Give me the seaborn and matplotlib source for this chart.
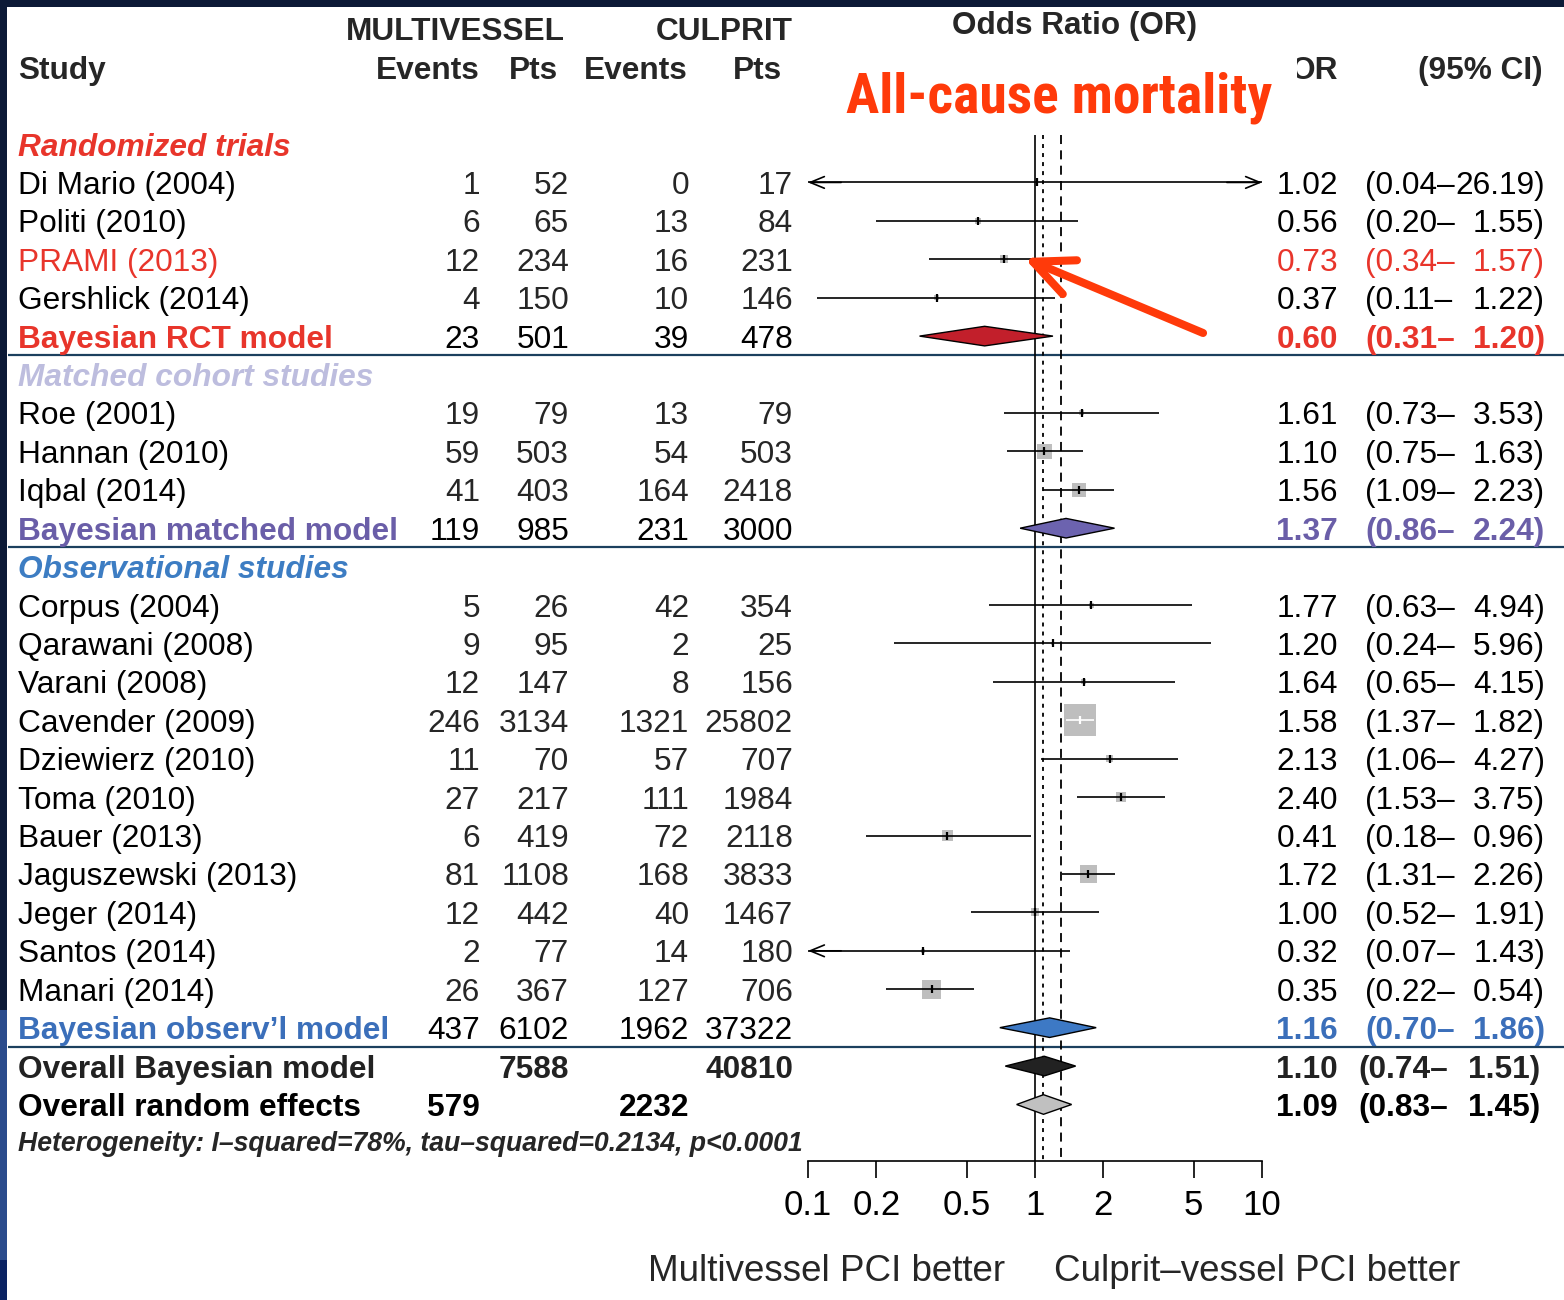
import matplotlib
matplotlib.use("Agg")
import numpy as np
import pandas as pd
import matplotlib.pyplot as plt
from matplotlib import font_manager
from matplotlib.patches import Polygon, Rectangle
import seaborn as sns

# ---------------- data ----------------
group_titles = ["Randomized trials", "Matched cohort studies", "Observational studies"]

study_names = ["Di Mario (2004)", "Politi (2010)", "PRAMI (2013)", "Gershlick (2014)",
               "Roe (2001)", "Hannan (2010)", "Iqbal (2014)",
               "Corpus (2004)", "Qarawani (2008)", "Varani (2008)", "Cavender (2009)",
               "Dziewierz (2010)", "Toma (2010)", "Bauer (2013)", "Jaguszewski (2013)",
               "Jeger (2014)", "Santos (2014)", "Manari (2014)"]
study_group = [0, 0, 0, 0, 1, 1, 1, 2, 2, 2, 2, 2, 2, 2, 2, 2, 2, 2]
mv_events = [1, 6, 12, 4, 19, 59, 41, 5, 9, 12, 246, 11, 27, 6, 81, 12, 2, 26]
mv_pts = [52, 65, 234, 150, 79, 503, 403, 26, 95, 147, 3134, 70, 217, 419, 1108, 442, 77, 367]
cp_events = [0, 13, 16, 10, 13, 54, 164, 42, 2, 8, 1321, 57, 111, 72, 168, 40, 14, 127]
cp_pts = [17, 84, 231, 146, 79, 503, 2418, 354, 25, 156, 25802, 707, 1984, 2118, 3833, 1467, 180, 706]
odds_ratio = [1.02, 0.56, 0.73, 0.37, 1.61, 1.10, 1.56, 1.77, 1.20, 1.64, 1.58, 2.13, 2.40,
              0.41, 1.72, 1.00, 0.32, 0.35]
ci_lower = [0.04, 0.20, 0.34, 0.11, 0.73, 0.75, 1.09, 0.63, 0.24, 0.65, 1.37, 1.06, 1.53,
            0.18, 1.31, 0.52, 0.07, 0.22]
ci_upper = [26.19, 1.55, 1.57, 1.22, 3.53, 1.63, 2.23, 4.94, 5.96, 4.15, 1.82, 4.27, 3.75,
            0.96, 2.26, 1.91, 1.43, 0.54]
study_weight = [0.04, 0.37, 0.64, 0.25, 0.25, 2.3, 1.9, 0.25, 0.09, 0.25, 10.2, 0.49, 1.0,
                1.2, 2.9, 0.64, 0.16, 3.6]
highlighted_study = "PRAMI (2013)"

pooled_names = ["Bayesian RCT model", "Bayesian matched model", "Bayesian observ\u2019l model",
                "Overall Bayesian model", "Overall random effects"]
pooled_mv_events = [23, 119, 437, None, 579]
pooled_mv_pts = [501, 985, 6102, 7588, None]
pooled_cp_events = [39, 231, 1962, None, 2232]
pooled_cp_pts = [478, 3000, 37322, 40810, None]
pooled_or = [0.60, 1.37, 1.16, 1.10, 1.09]
pooled_lower = [0.31, 0.86, 0.70, 0.74, 0.83]
pooled_upper = [1.20, 2.24, 1.86, 1.51, 1.45]

fixed_effect_or = 1.30
heterogeneity = "Heterogeneity: I\u2013squared=78%, tau\u2013squared=0.2134, p<0.0001"
x_ticks = [0.1, 0.2, 0.5, 1, 2, 5, 10]
x_tick_labels = ["0.1", "0.2", "0.5", "1", "2", "5", "10"]

# ---------------- styling ----------------
W, H = 1564, 1300
ROW0_PX, ROW_PX = 144.0, 38.42
sns.set_theme(style="white")
REGULAR = ["Liberation Sans", "DejaVu Sans"]
plt.rcParams["font.family"] = REGULAR


def pick_narrow_family():
    names = sorted({f.name for f in font_manager.fontManager.ttflist})
    for pref in ("Liberation Sans Narrow", "Arial Narrow", "Roboto Condensed",
                 "Noto Sans Condensed", "Open Sans Condensed", "DejaVu Sans Condensed"):
        if pref in names:
            return [pref, "Liberation Sans", "DejaVu Sans"]
    for n in names:
        if ("Narrow" in n or "Condensed" in n) and "Serif" not in n and "Mono" not in n:
            return [n, "Liberation Sans", "DejaVu Sans"]
    return REGULAR


NARROW = pick_narrow_family()

FS = 22.8
BASE = 11.5 / ROW_PX
RED = "#E8352B"
header_colors = [RED, "#BDBDDE", "#3D7DC3"]
pooled_text_colors = [RED, "#6A5EA8", "#3B6FBA", "#222222", "black"]
diamond_colors = ["#C21F2B", "#6C63AF", "#3D79C5", "#222222", "#C0C0C0"]
BOX_GRAY = "#BEBEBE"
SEP = "#1C405E"
ORANGE = "#FF3A0A"


def row_of_px(p):
    return (p - ROW0_PX) / ROW_PX


fig = plt.figure(figsize=(W / 100, H / 100), dpi=100)
fig.patch.set_facecolor("white")

ax_txt = fig.add_axes([0, 0, 1, 1])
ax_txt.set_xlim(0, W)
ax_txt.set_ylim(row_of_px(H), row_of_px(0))
ax_txt.axis("off")

ax = fig.add_axes([808 / W, 0, 454 / W, 1])
ax.set_xscale("log")
ax.set_xlim(0.1, 10)
ax.set_ylim(row_of_px(H), row_of_px(0))
ax.patch.set_alpha(0)

# ---------------- row layout ----------------
rows = []  # (kind, index, row)
r = 0
for g in range(3):
    rows.append(("header", g, r)); r += 1
    for i, sg in enumerate(study_group):
        if sg == g:
            rows.append(("study", i, r)); r += 1
    rows.append(("pooled", g, r)); r += 1
rows.append(("pooled", 3, r)); r += 1
rows.append(("pooled", 4, r)); r += 1
het_row = r
axis_row = row_of_px(1161)

COL = dict(mv_ev=480, mv_pt=569, cp_ev=689, cp_pt=793)


def put(x, row, s, ha="left", fs=FS, **kw):
    return ax_txt.text(x, row + BASE, s, ha=ha, va="baseline", fontsize=fs, **kw)


def fmt_ci(lo, hi, row, color, weight, left=1365, right=1545):
    put(left, row, f"({lo:.2f}\u2013", color=color, fontweight=weight)
    put(right, row, f"{hi:.2f})", ha="right", color=color, fontweight=weight)


# column headers
put(455, -3, "MULTIVESSEL", ha="center", fontweight="bold")
put(724, -3, "CULPRIT", ha="center", fontweight="bold")
put(18, -2, "Study", fontweight="bold")
put(480, -2, "Events", ha="right", fontweight="bold")
put(558, -2, "Pts", ha="right", fontweight="bold")
put(688, -2, "Events", ha="right", fontweight="bold")
put(782, -2, "Pts", ha="right", fontweight="bold")
put(1338, -2, "OR", ha="right", fontweight="bold", zorder=2)
put(1543, -2, "(95% CI)", ha="right", fontweight="bold")

fit_texts = []
t_or = ax_txt.text(1075, row_of_px(34), "Odds Ratio (OR)", ha="center", va="baseline",
                   fontsize=24, fontweight="bold", family=REGULAR)
fit_texts.append((t_or, 245))
# white panel behind the title; it overlaps the left edge of the OR header
ax_txt.add_patch(Rectangle((824, row_of_px(52)), 1297 - 824, (132 - 52) / ROW_PX,
                           facecolor="white", edgecolor="none", zorder=4))
t_title = ax_txt.text(1059, row_of_px(113), "All-cause mortality", ha="center", va="baseline",
                      fontsize=38, fontweight="bold", family=NARROW, color=ORANGE, zorder=5)
fit_texts.append((t_title, 426))
t_het = ax_txt.text(18, het_row + 8 / ROW_PX, heterogeneity, ha="left", va="baseline",
                    fontsize=17, fontweight="bold", fontstyle="italic", family=REGULAR)
fit_texts.append((t_het, 787))

box_rows = []
for kind, idx, row in rows:
    if kind == "header":
        put(18, row, group_titles[idx], color=header_colors[idx], fontweight="bold",
            fontstyle="italic")
    elif kind == "study":
        col = RED if study_names[idx] == highlighted_study else "black"
        put(18, row, study_names[idx], color=col)
        put(COL["mv_ev"], row, str(mv_events[idx]), ha="right")
        put(COL["mv_pt"], row, str(mv_pts[idx]), ha="right")
        put(COL["cp_ev"], row, str(cp_events[idx]), ha="right")
        put(COL["cp_pt"], row, str(cp_pts[idx]), ha="right")
        put(1338, row, f"{odds_ratio[idx]:.2f}", ha="right", color=col)
        fmt_ci(ci_lower[idx], ci_upper[idx], row, col, "normal")
        box_rows.append(dict(name=study_names[idx], row=row, est=odds_ratio[idx],
                             lo=ci_lower[idx], hi=ci_upper[idx], weight=study_weight[idx]))
    else:
        col = pooled_text_colors[idx]
        overall = idx >= 3
        put(18, row, pooled_names[idx], color=col, fontweight="bold")
        num_col = col if overall else "black"
        num_w = "bold" if overall else "normal"
        for key, vals in (("mv_ev", pooled_mv_events), ("mv_pt", pooled_mv_pts),
                          ("cp_ev", pooled_cp_events), ("cp_pt", pooled_cp_pts)):
            if vals[idx] is not None:
                put(COL[key], row, str(vals[idx]), ha="right", color=num_col, fontweight=num_w)
        put(1338, row, f"{pooled_or[idx]:.2f}", ha="right", color=col, fontweight="bold")
        if overall:
            fmt_ci(pooled_lower[idx], pooled_upper[idx], row, col, "bold", 1358, 1540)
        else:
            fmt_ci(pooled_lower[idx], pooled_upper[idx], row, col, "bold")
        # diamond
        half = 9.8 / ROW_PX
        est, lo, hi = pooled_or[idx], pooled_lower[idx], pooled_upper[idx]
        ax.add_patch(Polygon([(lo, row), (est, row - half), (hi, row), (est, row + half)],
                             closed=True, facecolor=diamond_colors[idx], edgecolor="black",
                             linewidth=1.0, zorder=6, clip_on=False))

# separators
for y in (5.5, 10.5, 23.5):
    ax_txt.hlines(y, 8, W, color=SEP, linewidth=1.6, zorder=1)

# ---------------- forest marks ----------------
df = pd.DataFrame(box_rows)
side_max_pt = 32 * 0.72
sns.scatterplot(data=df, x="est", y="row", size="weight", sizes=(0, side_max_pt ** 2),
                size_norm=(0, max(study_weight)), marker="s", color=BOX_GRAY, linewidth=0,
                legend=False, ax=ax, zorder=3)

# half-width of each box in log10 units, to see whether the interval hides inside it
px_per_dec = 454 / 2.0
df["half_dec"] = np.sqrt(df["weight"] / max(study_weight)) * 32 / 2 / px_per_dec
inside = (np.log10(df["lo"]) >= np.log10(df["est"]) - df["half_dec"]) & \
         (np.log10(df["hi"]) <= np.log10(df["est"]) + df["half_dec"])
df["tick"] = np.where(inside, "white", "black")

for _, rr in df.iterrows():
    lo, hi = max(rr.lo, 0.1), min(rr.hi, 10)
    ax.hlines(rr.row, lo, hi, color=rr.tick, linewidth=1.2, zorder=4)
    arrow = dict(arrowstyle="->,head_length=0.85,head_width=0.35", lw=1.2, color="black",
                 shrinkA=0, shrinkB=0)
    if rr.lo < 0.1:
        ax.annotate("", xy=(0.1, rr.row), xytext=(0.14, rr.row), arrowprops=arrow,
                    annotation_clip=False)
    if rr.hi > 10:
        ax.annotate("", xy=(10, rr.row), xytext=(7, rr.row), arrowprops=arrow,
                    annotation_clip=False)

sns.scatterplot(data=df, x="est", y="row", hue="tick",
                palette={"black": "black", "white": "white"}, marker="|", s=(8 * 0.72) ** 2,
                linewidth=1.6, legend=False, ax=ax, zorder=5)

# reference lines
top_row = row_of_px(135)
ax.vlines(1.0, top_row, axis_row, color="black", linewidth=1.2, zorder=2)
ax.vlines(pooled_or[4], top_row, axis_row, color="black", linewidth=1.3,
          linestyles=[(0, (2.2, 2.8))], zorder=2)
ax.vlines(fixed_effect_or, top_row, axis_row, color="black", linewidth=1.3,
          linestyles=[(0, (5, 3.5))], zorder=2)

# highlight arrow
ax.annotate("", xy=(0.895, row_of_px(258)), xytext=(5.5, row_of_px(333)),
            arrowprops=dict(arrowstyle="->,head_length=2.4,head_width=1.1", lw=5.8,
                            color=ORANGE, shrinkA=0, shrinkB=0, capstyle="round",
                            joinstyle="round"),
            annotation_clip=False, zorder=7)

# x axis
for s in ("top", "left", "right"):
    ax.spines[s].set_visible(False)
ax.spines["bottom"].set_position(("data", axis_row))
ax.spines["bottom"].set_color("black")
ax.spines["bottom"].set_linewidth(1.2)
ax.set_xticks(x_ticks)
ax.set_xticklabels(x_tick_labels)
ax.xaxis.set_minor_locator(matplotlib.ticker.NullLocator())
ax.tick_params(axis="x", which="major", direction="out", length=12, width=1.2,
               labelsize=25, pad=8.5, colors="black", bottom=True)
ax.set_yticks([])
ax.set_xlabel("")
ax.set_ylabel("")

ax_txt.text(827, row_of_px(1281), "Multivessel PCI better", ha="center", va="baseline",
            fontsize=26.5)
ax_txt.text(1257, row_of_px(1281), "Culprit\u2013vessel PCI better", ha="center",
            va="baseline", fontsize=26.5)

# frame strips
for (x0, y0, w, h, c) in ((0, 0, W, 7, "#0C1A37"), (0, 0, 7, 1010, "#0C1A37"),
                          (0, 1010, 7, 250, "#2A4B8C"), (0, 1260, 7, 40, "#0A2262")):
    fig.add_artist(Rectangle((x0 / W, 1 - (y0 + h) / H), w / W, h / H,
                             transform=fig.transFigure, facecolor=c, edgecolor="none",
                             zorder=10))

# size texts to their column widths
renderer = fig.canvas.get_renderer()
for t, target in fit_texts:
    wpx = t.get_window_extent(renderer=renderer).width
    t.set_fontsize(t.get_fontsize() * target / wpx)

fig.savefig("out.png", dpi=100)
